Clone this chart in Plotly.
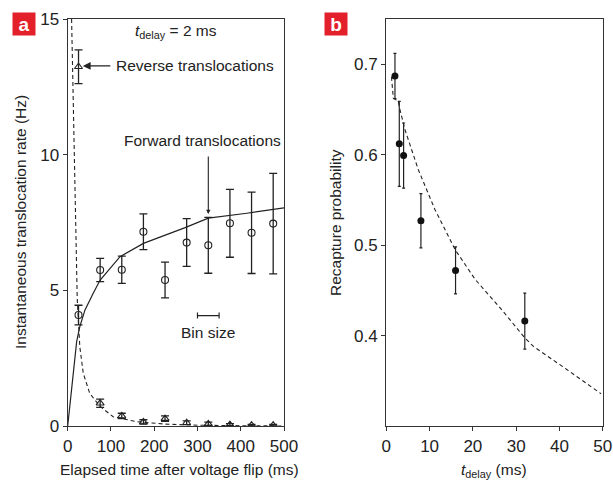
import plotly.graph_objects as go

# ---------------- Panel a data ----------------
bin_centers = [25, 75, 125, 175, 225, 275, 325, 375, 425, 475]
forward_rate = [4.09, 5.75, 5.76, 7.16, 5.38, 6.76, 6.66, 7.47, 7.12, 7.46]
forward_err = [0.36, 0.43, 0.50, 0.66, 0.66, 0.88, 1.03, 1.25, 1.50, 1.85]
reverse_rate = [13.24, 0.84, 0.37, 0.15, 0.27, 0.12, 0.08, 0.05, 0.03, 0.03]
reverse_err = [0.62, 0.15, 0.10, 0.08, 0.10, 0.07, 0.06, 0.04, 0.03, 0.03]

forward_fit_t = [0, 20.7, 28, 40, 59, 75, 121, 175, 270, 325, 414, 500]
forward_fit_v = [0, 3.11, 3.66, 4.28, 4.89, 5.38, 6.24, 6.73, 7.30, 7.66, 7.84, 8.04]
reverse_fit_t = [9, 13, 19, 22, 28, 36, 51, 75, 105, 159, 225, 300, 400, 500]
reverse_fit_v = [15, 12, 7.1, 4.7, 2.92, 1.94, 1.2, 0.72, 0.34, 0.16, 0.07, 0.03, 0.01, 0.0]

bin_center = 325
bin_half_width = 25
bin_marker_y = 4.07

# ---------------- Panel b data ----------------
t_delay = [2, 3, 4, 8, 16, 32]
recapture = [0.687, 0.612, 0.599, 0.527, 0.472, 0.416]
recapture_err = [0.025, 0.047, 0.036, 0.030, 0.026, 0.031]
fit_b_t = [1.2, 1.62, 2.77, 3.16, 4.32, 7.4, 11.25, 15.9, 20.5, 26.6, 32.0, 34.0, 41.7, 49.6]
fit_b_v = [0.686, 0.6625, 0.659, 0.6496, 0.6275, 0.5833, 0.5392, 0.495, 0.4623, 0.429, 0.3975,
           0.388, 0.3625, 0.3357]

OFF = 0
W, H = 613, 481
INK = "#222222"
FONT = "Liberation Sans, Arial, sans-serif"

fig = go.Figure()

# panel a traces
fig.add_trace(go.Scatter(x=forward_fit_t, y=forward_fit_v, mode="lines",
                         line=dict(color=INK, width=1.2), xaxis="x", yaxis="y",
                         showlegend=False, hoverinfo="skip"))
fig.add_trace(go.Scatter(x=reverse_fit_t, y=reverse_fit_v, mode="lines",
                         line=dict(color=INK, width=1.1, dash="4px,3px"), xaxis="x", yaxis="y",
                         showlegend=False, hoverinfo="skip"))
fig.add_trace(go.Scatter(x=bin_centers, y=forward_rate, mode="markers",
                         marker=dict(symbol="circle-open", size=7, color=INK, line=dict(width=1.1)),
                         error_y=dict(type="data", array=forward_err, color=INK, thickness=1.3, width=4),
                         xaxis="x", yaxis="y", showlegend=False))
fig.add_trace(go.Scatter(x=bin_centers, y=reverse_rate, mode="markers",
                         marker=dict(symbol="triangle-up-open", size=7, color=INK, line=dict(width=1.1)),
                         error_y=dict(type="data", array=reverse_err, color=INK, thickness=1.3, width=4),
                         xaxis="x", yaxis="y", showlegend=False))
# bin size indicator
fig.add_trace(go.Scatter(x=[bin_center], y=[bin_marker_y], mode="markers",
                         marker=dict(size=1, color="rgba(0,0,0,0)"),
                         error_x=dict(type="data", array=[bin_half_width], color=INK, thickness=1.2, width=3),
                         xaxis="x", yaxis="y", showlegend=False, hoverinfo="skip"))

# panel b traces
fig.add_trace(go.Scatter(x=fit_b_t, y=fit_b_v, mode="lines",
                         line=dict(color=INK, width=1.1, dash="4px,3px"), xaxis="x2", yaxis="y2",
                         showlegend=False, hoverinfo="skip"))
fig.add_trace(go.Scatter(x=t_delay, y=recapture, mode="markers",
                         marker=dict(symbol="circle", size=7, color="#111111"),
                         error_y=dict(type="data", array=recapture_err, color=INK, thickness=1.2, width=1.5),
                         xaxis="x2", yaxis="y2", showlegend=False))

def px2x(px):
    return (px - OFF) / W

def px2y(py):
    return 1 - (py - OFF) / H

axis_common = dict(showline=True, linecolor="#333333", linewidth=1.3, mirror=True,
                   ticks="outside", ticklen=4, tickcolor="#333333", tickwidth=1.2,
                   showgrid=False, zeroline=False, automargin=False,
                   tickfont=dict(family=FONT, size=17, color=INK))

fig.update_layout(
    width=W, height=H,
    margin=dict(l=0, r=0, t=0, b=0, autoexpand=False),
    paper_bgcolor="white", plot_bgcolor="white",
    xaxis=dict(domain=[px2x(67.7), px2x(284)], range=[0, 500], tickvals=[0, 100, 200, 300, 400, 500],
               anchor="y", **axis_common),
    yaxis=dict(domain=[px2y(426), px2y(19)], range=[0, 15], tickvals=[0, 5, 10, 15],
               anchor="x", **axis_common),
    xaxis2=dict(domain=[px2x(386.3), px2x(602.7)], range=[0, 50], tickvals=[0, 10, 20, 30, 40, 50],
                anchor="y2", **axis_common),
    yaxis2=dict(domain=[px2y(426), px2y(19)], range=[0.3, 0.75], tickvals=[0.4, 0.5, 0.6, 0.7],
                anchor="x2", **axis_common),
)

ann = []
tf = dict(family=FONT, size=15.5, color=INK)
C = dict(xanchor="center", yanchor="middle", showarrow=False)
# panel labels
for lab, xl in (("a", 12), ("b", 324)):
    ann.append(dict(text="<b>%s</b>" % lab, xref="paper", yref="paper", x=px2x(xl), y=px2y(12),
                    xanchor="left", yanchor="top", showarrow=False, bgcolor="#e3202a",
                    width=22, height=22, borderpad=0,
                    font=dict(family=FONT, size=19, color="white")))
# axis titles
ann.append(dict(text="Elapsed time after voltage flip (ms)", xref="paper", yref="paper",
                x=px2x(179), y=px2y(469.5), font=tf, **C))
ann.append(dict(text="Instantaneous translocation rate (Hz)", xref="paper", yref="paper",
                x=px2x(20), y=px2y(222), textangle=-90, font=tf, **C))
ann.append(dict(text="Recapture probability", xref="paper", yref="paper",
                x=px2x(335), y=px2y(223), textangle=-90, font=tf, **C))
ann.append(dict(text="<i>t</i><sub>delay</sub> (ms)", xref="paper", yref="paper",
                x=px2x(494), y=px2y(470), font=tf, **C))
# in-plot text
ann.append(dict(text="<i>t</i><sub>delay</sub> = 2 ms", xref="x", yref="y", x=250, y=14.55,
                font=tf, **C))
ann.append(dict(text="Reverse translocations", xref="x", yref="y", x=107, y=13.27,
                xanchor="left", yanchor="middle", showarrow=False, font=tf))
ann.append(dict(text="", xref="x", yref="y", x=35, y=13.27, ax=29, ay=0,
                showarrow=True, arrowhead=2, arrowsize=1.2, arrowwidth=1.3, arrowcolor=INK))
ann.append(dict(text="Forward translocations", xref="x", yref="y", x=311, y=10.53,
                font=tf, **C))
ann.append(dict(text="", xref="x", yref="y", x=325, y=7.81, ax=0, ay=-59,
                showarrow=True, arrowhead=2, arrowsize=0.8, arrowwidth=1.1, arrowcolor=INK))
ann.append(dict(text="Bin size", xref="x", yref="y", x=325, y=3.43,
                font=tf, **C))
fig.update_layout(annotations=ann)

fig.write_html("out.html", config={"displayModeBar": False},
               post_script="document.body.style.margin='0';document.body.style.overflow='hidden';")
